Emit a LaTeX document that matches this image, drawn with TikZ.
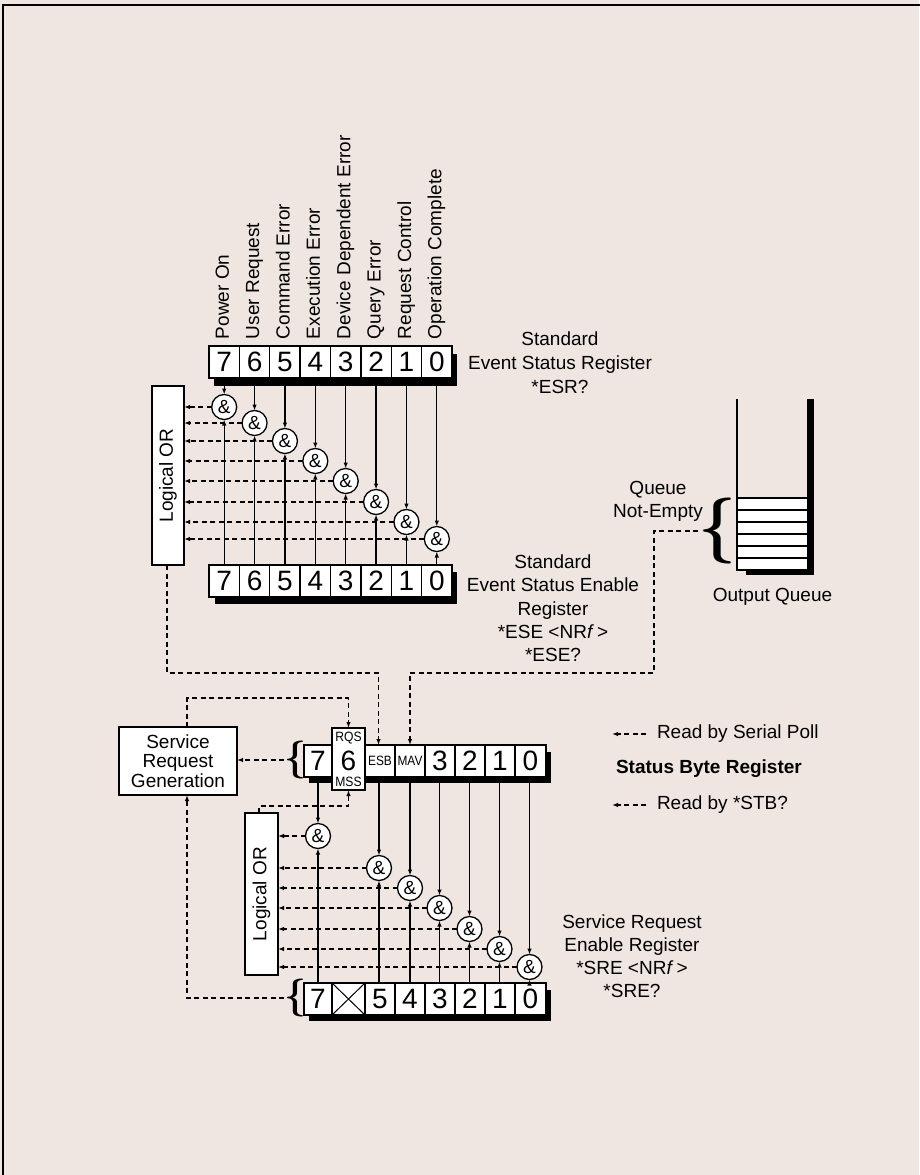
\documentclass[tikz,border=0pt]{standalone}
\usepackage{fontspec}
\setmainfont{Liberation Sans}
\newfontfamily\bracefont{Latin Modern Roman}
\usetikzlibrary{arrows.meta}
\definecolor{bg}{RGB}{239,230,225}
\begin{document}
\begin{tikzpicture}[x=1pt,y=-1pt,
  every node/.style={inner sep=0pt, outer sep=0pt},
  cell/.style={draw, line width=1.3pt, fill=white, minimum height=32pt, font=\fontsize{28}{28}\selectfont},
  small/.style={font=\fontsize{13.5}{13.5}\selectfont},
  gate/.style={circle, draw, line width=1.3pt, fill=white, minimum size=25pt, font=\fontsize{19}{19}\selectfont},
  lbl/.style={font=\fontsize{19}{23.5}\selectfont, align=center},
  sig/.style={line width=1.25pt, -{Latex[length=6pt,width=4.5pt]}},
  dsig/.style={sig, dash pattern=on 5pt off 3.5pt},
  orbox/.style={draw, line width=1.3pt, fill=white},
  bigbrace/.style={font=\bracefont\bfseries\fontsize{#1}{#1}\selectfont},
]
\useasboundingbox (0,0) rectangle (919,1175);
\fill[bg] (0,0) rectangle (919,1175);
\draw[line width=2pt] (3,1180) -- (3,5) -- (925,5);

% ---------- Standard Event Status Register ----------
\fill (214,354) rectangle (457,386);
\foreach \b [count=\i from 0] in {7,6,5,4,3,2,1,0}
  \node[cell, minimum width=30.375pt] (esr\b) at ({209+30.375*(\i+0.5)},362) {\b};
\foreach \b/\t in {7/Power On,6/User Request,5/Command Error,4/Execution Error,3/Device Dependent Error,2/Query Error,1/Request Control,0/Operation Complete}
  \node[lbl, rotate=90, anchor=mid west] (lab\b) at ([xshift=2pt,yshift=7pt]esr\b.north) {\t};
\node[lbl, font=\fontsize{19}{24}\selectfont] (esrlbl) at (560,363) {Standard\\Event Status Register\\*ESR?};

% ---------- Standard Event Status Enable Register ----------
\fill (215,572) rectangle (457,604);
\foreach \b [count=\i from 0] in {7,6,5,4,3,2,1,0}
  \node[cell, minimum width=30.375pt] (ese\b) at ({209+30.375*(\i+0.5)},581) {\b};
\node[lbl, font=\fontsize{19}{23.3}\selectfont] (eselbl) at (553,608.5) {Standard\\Event Status Enable\\Register\\*ESE <NR\textit{f}\,>\\*ESE?};

% Logical OR (top)
\node[orbox, minimum width=32pt, minimum height=179pt] (or1) at (168,475.5) {};
\node[rotate=90, font=\fontsize{19}{19}\selectfont] (or1t) at (or1.center) {Logical OR};

% gates (top)
\foreach \b/\y in {7/407,6/423,5/441,4/461,3/481,2/502,1/522,0/539}
  \node[gate] (g\b) at (esr\b.center |- 0,\y) {\&};
\foreach \b in {7,6,5,4,3,2,1,0} {
  \draw[sig] ([yshift=-8pt]esr\b.south) -- (g\b.north);
  \draw[sig] (ese\b.north) -- (g\b.south);
  \draw[dsig] (g\b.west) -- (g\b.west -| or1.east);
}

% ---------- Output Queue ----------
\fill[white] (737,498) rectangle (808,570);
\fill (808,399) rectangle (814,575);
\fill (746,570) rectangle (814,575);
\draw[line width=1.2pt] (737,399) -- (737,570) -- (808,570) -- (808,399);
\foreach \y in {498,510,522,534,546,558}
  \draw[line width=1.2pt] (737,\y) -- (808,\y);
\node[lbl] (oqlbl) at (772.5,597) {Output Queue};
\node[bigbrace=66] (qbrace) at (717,531) {\{};
\node[lbl, font=\fontsize{19}{23}\selectfont] (qlbl) at (658,501.5) {Queue\\Not-Empty};

% ---------- Status Byte Register ----------
\fill (309,752) rectangle (551,783);
\node[cell, minimum width=28pt] (sb7) at (318,761) {7};
\node[cell, minimum width=30pt, small] (sbE) at (380,761) {\scalebox{0.88}[1]{ESB}};
\node[cell, minimum width=30pt, small] (sbM) at (410,761) {\scalebox{0.88}[1]{MAV}};
\node[cell, minimum width=30pt] (sb3) at (440,761) {3};
\node[cell, minimum width=30pt] (sb2) at (470,761) {2};
\node[cell, minimum width=30pt] (sb1) at (500,761) {1};
\node[cell, minimum width=31pt] (sb0) at (530.5,761) {0};
\node[cell, minimum width=33pt, minimum height=62pt] (sb6) at (348.5,759) {};
\node[small] (rqs) at (348.5,738.5) {\scalebox{0.9}[1]{RQS}};
\node[font=\fontsize{28}{28}\selectfont] (sb6t) at (348.5,761) {6};
\node[small] (mss) at (348.5,782) {\scalebox{0.9}[1]{MSS}};
\node[bigbrace=38] (sbbrace) at (295,760) {\{};

\node[lbl, anchor=west] (rsp) at (657,734) {Read by Serial Poll};
\node[lbl, anchor=west, font=\bfseries\fontsize{19}{19}\selectfont] (sbrl) at (616,769) {Status Byte Register};
\node[lbl, anchor=west] (rstb) at (657,805) {Read by *STB?};
\draw[dsig] ([xshift=-11pt]rsp.west) -- ++(-34,0);
\draw[dsig] ([xshift=-11pt]rstb.west) -- ++(-34,0);

% Service Request Generation
\node[orbox, minimum width=118pt, minimum height=68pt, align=center, font=\fontsize{19}{19.5}\selectfont] (srg) at (178,761) {Service\\Request\\Generation};

% ---------- Service Request Enable Register ----------
\fill (309,990) rectangle (551,1021);
\node[cell, minimum width=28pt] (sr7) at (318,999) {7};
\node[cell, minimum width=33pt] (srX) at (348.5,999) {};
\draw[line width=1pt] (srX.north west) -- (srX.south east) (srX.south west) -- (srX.north east);
\node[cell, minimum width=30pt] (sr5) at (380,999) {5};
\node[cell, minimum width=30pt] (sr4) at (410,999) {4};
\node[cell, minimum width=30pt] (sr3) at (440,999) {3};
\node[cell, minimum width=30pt] (sr2) at (470,999) {2};
\node[cell, minimum width=30pt] (sr1) at (500,999) {1};
\node[cell, minimum width=31pt] (sr0) at (530.5,999) {0};
\node[bigbrace=38] (srbrace) at (295,998) {\{};
\node[lbl, font=\fontsize{19}{23}\selectfont] (srelbl) at (632,956.5) {Service Request\\Enable Register\\*SRE <NR\textit{f}\,>\\*SRE?};

% Logical OR (bottom)
\node[orbox, minimum width=33pt, minimum height=162pt] (or2) at (261.5,894) {};
\node[rotate=90, font=\fontsize{19}{19}\selectfont] (or2t) at (or2.center) {Logical OR};

% gates (bottom)
\foreach \n/\x/\y in {7/318/836,5/379/868,4/410/888,3/439.5/908,2/469.5/929,1/499.5/949,0/529.5/967}
  \node[gate] (h\n) at (\x,\y) {\&};
\foreach \n in {7,5,4,3,2,1,0} {
  \draw[sig] (h\n.north |- 0,783) -- (h\n.north);
  \draw[sig] (h\n.south |- sr7.north) -- (h\n.south);
  \draw[dsig] (h\n.west) -- (h\n.west -| or2.east);
}

% ---------- dashed routing ----------
\draw[dsig] ([xshift=-1pt]or1.south) -- (167,673) -| ([xshift=-1.5pt]sbE.north);
\draw[dsig] (qbrace.west) -- (654,531) -- (654,673) -| (sbM.north);
\draw[dsig] (sbbrace.west) -- (sbbrace.west -| srg.east);
\draw[dsig] ([xshift=9pt]srg.north) -- ++(0,-29) -| (sb6.north);
\draw[dsig] ([xshift=-2.5pt]or2.north) -- ++(0,-7) -| (sb6.south);
\draw[dsig] (srbrace.west) -| ([xshift=9pt]srg.south);
\end{tikzpicture}
\end{document}
